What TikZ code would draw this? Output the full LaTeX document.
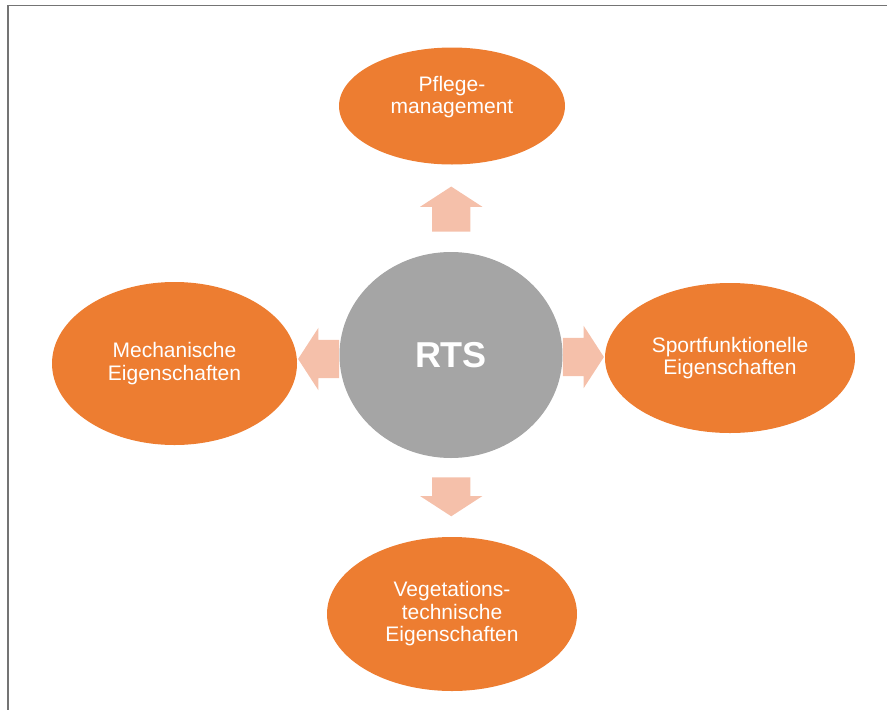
\documentclass[tikz,border=0pt]{standalone}
\usepackage{fontspec}
\setmainfont{Liberation Sans}
\usetikzlibrary{shapes.geometric, shapes.arrows, backgrounds}
\definecolor{corange}{HTML}{ED7D31}
\definecolor{cgray}{HTML}{A5A5A5}
\definecolor{cpeach}{HTML}{F5C0AA}
\definecolor{cframe}{HTML}{747474}

\begin{document}
\begin{tikzpicture}[x=1pt, y=-1pt,
    hub/.style={ellipse, fill=cgray, minimum width=223pt, minimum height=206pt, inner sep=0pt, text=white, font=\fontsize{36}{40}\selectfont\bfseries},
    topic/.style={ellipse, fill=corange, inner sep=0pt, text=white, align=center, font=\fontsize{21}{22.5}\selectfont},
    topictext/.style={text=white, align=center, inner sep=0pt, font=\fontsize{21}{22.5}\selectfont},
    blockarrow/.style={single arrow, fill=cpeach, anchor=tail, minimum width=62pt, minimum height=#1, single arrow head extend=12pt, single arrow tip angle=114, inner xsep=0pt, inner ysep=19pt},
    blockarrow/.default=44pt,
]
\useasboundingbox (0,0) rectangle (887,710);
\draw[cframe, line width=1.5pt] (8,710) -- (8,5.5) -- (887,5.5);

% centre and the four aspects
\node[hub] (rts) at (451,355) {RTS};
\node[topic, minimum width=226pt, minimum height=117pt, label={[topictext, yshift=9pt]center:{Pflege-\\management}}] (pflege) at (452,106) {};
\node[topic, minimum width=245pt, minimum height=163pt] (mech) at (174.5,363.5) {Mechanische\\Eigenschaften};
\node[topic, minimum width=250pt, minimum height=150pt] (sport) at (730,358) {Sportfunktionelle\\Eigenschaften};
\node[topic, minimum width=250pt, minimum height=154pt] (veg) at (452,614) {Vegetations-\\technische\\Eigenschaften};

% block arrows
\begin{scope}[on background layer]
\path (rts.north) -- (pflege.south) node[blockarrow=45pt, pos=0.23, rotate=90] (arrowup) {};
\path (rts.west) -- (mech.east) node[blockarrow=41pt, pos=0, rotate=180, yshift=4pt] (arrowleft) {};
\path (rts.east) -- (sport.west) node[blockarrow=41pt, pos=0, yshift=-2pt] (arrowright) {};
\path (rts.south) -- (veg.north) node[blockarrow=39pt, pos=0.24, rotate=-90] (arrowdown) {};
\end{scope}

\end{tikzpicture}
\end{document}
